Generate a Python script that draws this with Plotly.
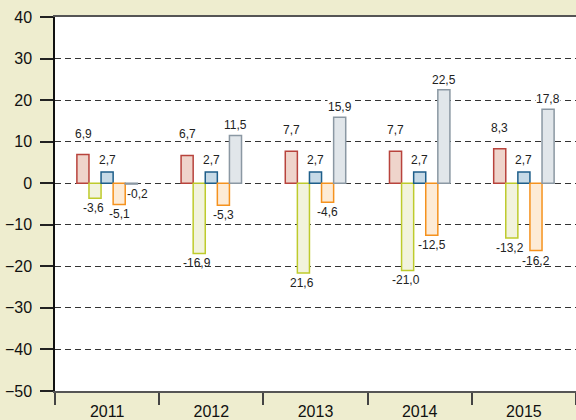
import plotly.graph_objects as go

years = ["2011", "2012", "2013", "2014", "2015"]
red_vals = [6.9, 6.7, 7.7, 7.7, 8.3]
green_vals = [-3.6, -16.9, -21.6, -21.0, -13.2]
blue_vals = [2.7, 2.7, 2.7, 2.7, 2.7]
orange_vals = [-5.1, -5.3, -4.6, -12.5, -16.2]
gray_vals = [-0.2, 11.5, 15.9, 22.5, 17.8]
green_labels = ["-3,6", "-16,9", "21,6", "-21,0", "-13,2"]
y_ticks = [-50, -40, -30, -20, -10, 0, 10, 20, 30, 40]


def fmt(v):
    return f"{v:.1f}".replace(".", ",")


series = [
    ("red", red_vals, [fmt(v) for v in red_vals], "#EFD4CB", "#B8433C", -24),
    ("green", green_vals, green_labels, "#F2F3DD", "#BECB2C", -12),
    ("blue", blue_vals, [fmt(v) for v in blue_vals], "#C7DAE7", "#1E5E8A", 0),
    ("orange", orange_vals, [fmt(v) for v in orange_vals], "#FDEBD6", "#F5921E", 12),
    ("gray", gray_vals, [fmt(v) for v in gray_vals], "#E1E6EA", "#8B98A3", 24),
]

label_font = dict(size=12, color="#222", family="Liberation Sans, Arial")

fig = go.Figure()
annotations = []
for name, vals, labels, fill, line, xs in series:
    fig.add_trace(go.Bar(
        x=years, y=vals, name=name,
        marker=dict(color=fill, line=dict(color=line, width=1.5)),
        hoverinfo="skip",
    ))
    for i, (v, lab) in enumerate(zip(vals, labels)):
        if v >= 0:
            ysh = 13 if name == "red" else (4 if name == "blue" else 2)
            annotations.append(dict(x=i, y=v, text=lab, showarrow=False,
                                    xref="x", yref="y", xshift=xs, yshift=ysh,
                                    yanchor="bottom", font=label_font,
                                    bgcolor="rgba(255,255,255,1)" if name == "gray" else None,
                                    borderpad=0))
        else:
            extra = 6 if name == "gray" else (-2 if name == "green" else 0)
            annotations.append(dict(x=i, y=v, text=lab, showarrow=False,
                                    xref="x", yref="y", xshift=xs + extra, yshift=-1,
                                    yanchor="top", font=label_font))

fig.update_layout(
    width=576, height=420,
    margin=dict(l=55, r=0, t=17, b=29),
    paper_bgcolor="#EEEDCF",
    plot_bgcolor="#FFFFFF",
    barmode="group",
    bargap=0.42,
    bargroupgap=0,
    showlegend=False,
    annotations=annotations,
    font=dict(family="Liberation Sans, Arial", color="#111"),
    xaxis=dict(
        type="category",
        tickson="boundaries",
        ticks="outside", ticklen=12, tickcolor="#444", tickwidth=1.5,
        showline=True, linecolor="#555", linewidth=2, mirror=True,
        showgrid=False,
        tickfont=dict(size=16, color="#111"),
        ticklabelstandoff=5,
        range=[-0.5, 4.5],
    ),
    yaxis=dict(
        range=[-50, 40],
        tickvals=y_ticks,
        ticks="outside", ticklen=13, tickcolor="#222", tickwidth=1.5,
        showline=True, linecolor="#111", linewidth=1.5,
        showgrid=True, gridcolor="#333", gridwidth=1, griddash="6px,4px",
        zeroline=False,
        tickfont=dict(size=16, color="#111"),
        ticklabelstandoff=5,
    ),
)

fig.write_html("out.html", config={"displayModeBar": False},
               post_script="document.body.style.margin='0';document.body.style.overflow='hidden';")
